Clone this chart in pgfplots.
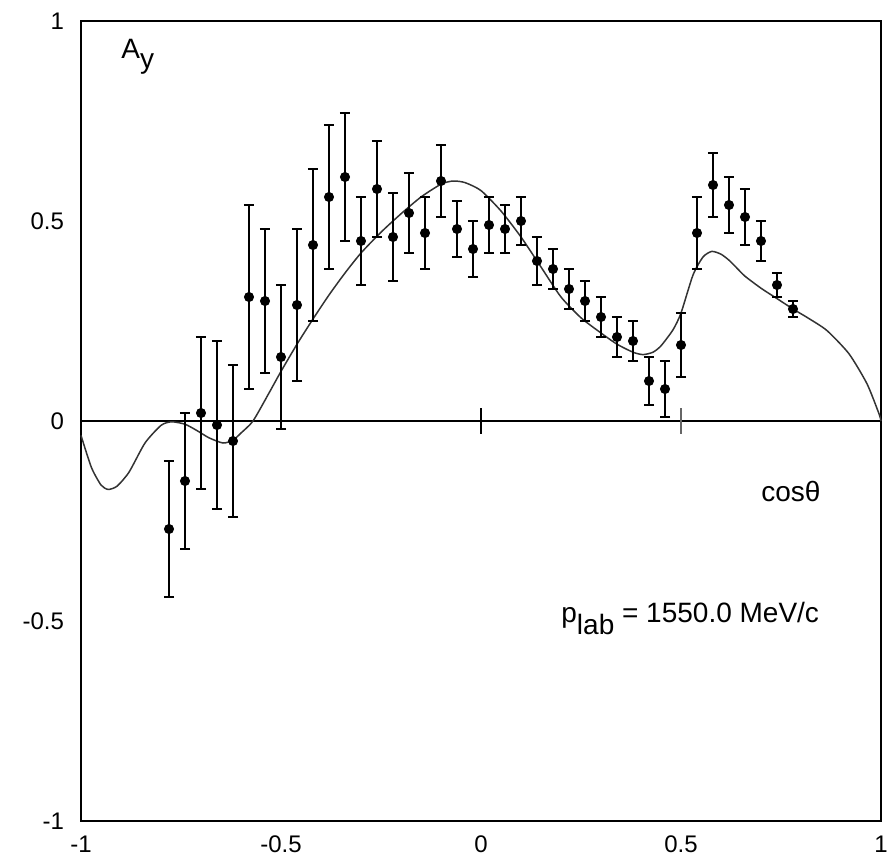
\documentclass[border=0pt]{standalone}
\usepackage{fontspec}
\setmainfont{Liberation Sans}
\usepackage{pgfplots}
\pgfplotsset{compat=1.18}
\usetikzlibrary{calc}

% measured points: cos theta, A_y, error
\pgfplotstableread{
x y e
-0.78 -0.27 0.17
-0.74 -0.15 0.17
-0.70 0.02 0.19
-0.66 -0.01 0.21
-0.62 -0.05 0.19
-0.58 0.31 0.23
-0.54 0.30 0.18
-0.50 0.16 0.18
-0.46 0.29 0.19
-0.42 0.44 0.19
-0.38 0.56 0.18
-0.34 0.61 0.16
-0.30 0.45 0.11
-0.26 0.58 0.12
-0.22 0.46 0.11
-0.18 0.52 0.10
-0.14 0.47 0.09
-0.10 0.60 0.09
-0.06 0.48 0.07
-0.02 0.43 0.07
0.02 0.49 0.07
0.06 0.48 0.06
0.10 0.50 0.06
0.14 0.40 0.06
0.18 0.38 0.05
0.22 0.33 0.05
0.26 0.30 0.05
0.30 0.26 0.05
0.34 0.21 0.05
0.38 0.20 0.05
0.42 0.10 0.06
0.46 0.08 0.07
0.50 0.19 0.08
0.54 0.47 0.09
0.58 0.59 0.08
0.62 0.54 0.07
0.66 0.51 0.07
0.70 0.45 0.05
0.74 0.34 0.03
0.78 0.28 0.02
}\datatab

% model curve
\pgfplotstableread{
x y
-1.00 -0.036
-0.974 -0.116
-0.95 -0.160
-0.932 -0.171
-0.91 -0.163
-0.88 -0.128
-0.84 -0.055
-0.80 -0.011
-0.774 -0.002
-0.74 -0.008
-0.71 -0.024
-0.68 -0.042
-0.645 -0.055
-0.62 -0.048
-0.60 -0.030
-0.57 0.000
-0.53 0.070
-0.50 0.124
-0.46 0.192
-0.42 0.255
-0.38 0.315
-0.34 0.370
-0.30 0.420
-0.25 0.472
-0.20 0.518
-0.15 0.560
-0.10 0.592
-0.07 0.600
-0.04 0.596
0.00 0.576
0.05 0.525
0.10 0.460
0.15 0.385
0.20 0.310
0.25 0.258
0.30 0.220
0.34 0.192
0.38 0.172
0.405 0.166
0.43 0.172
0.45 0.188
0.48 0.228
0.50 0.270
0.53 0.365
0.555 0.410
0.577 0.424
0.60 0.417
0.62 0.402
0.64 0.382
0.66 0.362
0.70 0.332
0.74 0.306
0.78 0.280
0.82 0.256
0.865 0.226
0.92 0.168
0.965 0.093
0.995 0.018
1.00 0.000
}\curvetab

\begin{document}
\begin{tikzpicture}
\begin{axis}[
    width=400pt, height=400pt,
    scale only axis,
    xmin=-1, xmax=1, ymin=-1, ymax=1,
    xtick={-1,-0.5,0,0.5,1},
    ytick={-1,-0.5,0,0.5,1},
    major tick length=0pt,
    axis line style={line width=0.9pt},
    /pgf/number format/assume math mode=true,
    tick label style={font=\fontsize{12}{14}\selectfont},
    xticklabel style={yshift=-4pt},
    yticklabel style={xshift=-5pt},
    clip=false,
]
\coordinate (sw) at (rel axis cs:0,0);
\coordinate (ne) at (rel axis cs:1,1);

\draw[line width=0.8pt] (axis cs:-1,0) -- (axis cs:1,0);
\draw[line width=0.8pt] (axis cs:0,-0.032) -- (axis cs:0,0.032);
\draw[line width=0.8pt, black!60] (axis cs:0.5,-0.032) -- (axis cs:0.5,0.032);

\addplot[line width=0.75pt, black!80, smooth, tension=0.4] table[x=x, y=y] {\curvetab};

\addplot[only marks, mark=*, mark size=2.3pt, black,
    error bars/.cd, y dir=both, y explicit,
    error bar style={line width=0.9pt},
    error mark options={rotate=90, mark size=2.6pt, line width=0.9pt}]
    table[x=x, y=y, y error=e] {\datatab};

\node[anchor=base west, font=\fontsize{14}{16}\selectfont, inner sep=0pt]
    at (axis cs:-0.9,0.907) {A\raisebox{-5pt}{y}};
\node[anchor=base west, font=\fontsize{14}{16}\selectfont, inner sep=0pt]
    at (axis cs:0.70,-0.20) {cosθ};
\node[anchor=base west, font=\fontsize{14}{16}\selectfont, inner sep=0pt]
    at (axis cs:0.20,-0.504) {p\raisebox{-6pt}{lab} = 1550.0 MeV/c};
\end{axis}
\pgfresetboundingbox
\path[use as bounding box] ($(sw)+(-40.5pt,-19pt)$) rectangle ($(ne)+(3.5pt,10.5pt)$);
\end{tikzpicture}
\end{document}
